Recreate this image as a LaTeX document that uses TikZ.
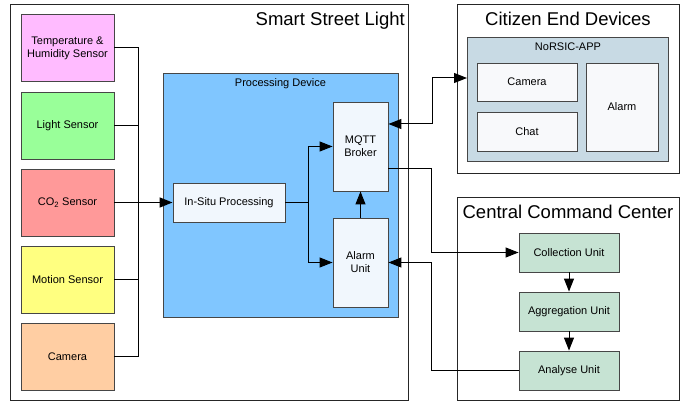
\documentclass[tikz,border=0pt]{standalone}
\usepackage{fontspec}
\setmainfont{Liberation Sans}
\usetikzlibrary{arrows.meta}
\definecolor{ctemp}{RGB}{255,187,255}
\definecolor{clight}{RGB}{153,255,153}
\definecolor{cco}{RGB}{255,153,153}
\definecolor{cmotion}{RGB}{255,255,128}
\definecolor{ccam}{RGB}{255,206,163}
\definecolor{cproc}{RGB}{128,198,255}
\definecolor{cinner}{RGB}{241,247,253}
\definecolor{cunit}{RGB}{198,227,211}
\definecolor{capp}{RGB}{200,218,228}
\definecolor{cwhite}{RGB}{248,249,251}
\definecolor{cborder}{RGB}{70,70,70}
\tikzset{
  outerbox/.style={draw=black!85, line width=0.8pt, fill=white},
  sensorbox/.style={draw=cborder, line width=0.9pt, minimum width=93pt, minimum height=67pt, inner sep=0pt, align=center, font=\fontsize{11}{13}\selectfont},
  innerbox/.style={draw=cborder, line width=0.9pt, fill=cinner, inner sep=0pt, align=center, font=\fontsize{11}{13}\selectfont},
  unitbox/.style={draw=cborder, line width=0.9pt, fill=cunit, minimum width=100pt, minimum height=39pt, inner sep=0pt, font=\fontsize{11}{13}\selectfont},
  appbox/.style={draw=cborder, line width=0.9pt, fill=cwhite, inner sep=0pt, font=\fontsize{11}{13}\selectfont},
  title/.style={font=\fontsize{18.5}{20}\selectfont, inner sep=0pt},
  smalltitle/.style={font=\fontsize{11}{13}\selectfont, inner sep=0pt},
  conn/.style={line width=1pt, black},
  arr/.style={conn, -{Triangle[length=13pt,width=10pt]}},
  arrboth/.style={conn, {Triangle[length=13pt,width=10pt]}-{Triangle[length=13pt,width=10pt]}},
}
\begin{document}
\begin{tikzpicture}[x=1pt,y=-1pt]
\useasboundingbox (0,0) rectangle (686,403);
\fill[white] (0,0) rectangle (686,403);
% outer containers
\draw[outerbox] (10,4) rectangle (408,400);
\draw[outerbox] (457,4) rectangle (679,173);
\draw[outerbox] (457,197) rectangle (679,400);
\node[title, anchor=base east] (tssl) at (405,26) {Smart Street Light};
\node[title, anchor=base] (tced) at (568,26) {Citizen End Devices};
\node[title, anchor=base] (tccc) at (568,219) {Central Command Center};
% processing device
\draw[draw=cborder, line width=0.9pt, fill=cproc] (163,73) rectangle (398,317);
\node[smalltitle, anchor=base] (tpd) at (280.5,87) {Processing Device};
% sensors
\node[sensorbox, fill=ctemp] (temp) at (67.5,48) {Temperature \&\\Humidity Sensor};
\node[sensorbox, fill=clight] (light) at (67.5,125.5) {Light Sensor};
\node[sensorbox, fill=cco] (co2) at (67.5,202.5) {CO\textsubscript{2} Sensor};
\node[sensorbox, fill=cmotion] (motion) at (67.5,279.5) {Motion Sensor};
\node[sensorbox, fill=ccam] (cam) at (67.5,356.5) {Camera};
% processing inner
\node[innerbox, minimum width=112pt, minimum height=39pt] (insitu) at (229,202.5) {In-Situ Processing};
\node[innerbox, minimum width=55pt, minimum height=89pt] (mqtt) at (360.5,146.5) {MQTT\\Broker};
\node[innerbox, minimum width=55pt, minimum height=89pt] (alarm) at (360.5,262.5) {Alarm\\Unit};
% citizen app
\draw[draw=cborder, line width=0.9pt, fill=capp] (467,37) rectangle (668,161);
\node[smalltitle, anchor=base] (tapp) at (568,50.5) {NoRSIC-APP};
\coordinate (appw) at (467,78);
\node[appbox, minimum width=100pt, minimum height=38pt] (acam) at (527,82) {Camera};
\node[appbox, minimum width=100pt, minimum height=39pt] (achat) at (527,131.5) {Chat};
\node[appbox, minimum width=72pt, minimum height=88pt] (aalarm) at (622,107) {Alarm};
% central units
\node[unitbox] (coll) at (569,252.5) {Collection Unit};
\node[unitbox] (aggr) at (569,311.5) {Aggregation Unit};
\node[unitbox] (anal) at (569,370.5) {Analyse Unit};
% sensor bus
\coordinate (bt) at (138,48);
\coordinate (bb) at (138,356.5);
\draw[conn] (temp.east) -- (bt) -- (bb) -- (cam.east);
\draw[conn] (light.east) -- (light.east -| bt);
\draw[conn] (motion.east) -- (motion.east -| bt);
\draw[arr, line width=1.4pt] (co2.east) -- (insitu.west);
% processing
\coordinate (j) at (308,202.5);
\draw[conn] (insitu.east) -- (j);
\draw[arr] (j) |- (mqtt.west);
\draw[arr] (j) |- (alarm.west);
\draw[arr] (alarm.north) -- (mqtt.south);
% to citizen app
\draw[arrboth] ([yshift=22.5pt]mqtt.east) -- ++(44,0) |- (appw);
% to central
\draw[arr] ([yshift=-22.5pt]mqtt.east) -- ++(43,0) |- (coll.west);
\draw[arr] (anal.west) -- ++(-87,0) |- (alarm.east);
\draw[arr] (coll.south) -- (aggr.north);
\draw[arr] (aggr.south) -- (anal.north);
\end{tikzpicture}
\end{document}
